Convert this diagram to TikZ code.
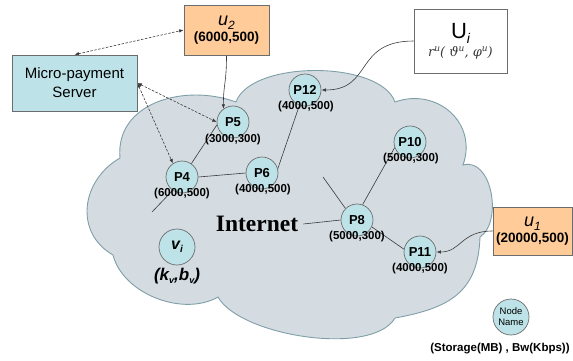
\documentclass[tikz,border=0pt]{standalone}
\usepackage{fontspec}
\setmainfont{Liberation Sans}
\newfontfamily\serifb{Liberation Serif}
\newfontfamily\greekit{DejaVu Serif}
\usetikzlibrary{arrows.meta,calc}
\definecolor{cloudfill}{HTML}{D4DCE2}
\definecolor{cloudline}{HTML}{7F9FA8}
\definecolor{nodefill}{HTML}{BDE3E8}
\definecolor{boxorange}{HTML}{FFCC99}
\definecolor{edgegray}{HTML}{3A3A3A}
\pgfdeclarelayer{cloudlayer}
\pgfdeclarelayer{edgelayer}
\pgfsetlayers{cloudlayer,edgelayer,main}
\newcommand{\supu}{\raisebox{4.5pt}{\fontsize{9}{9}\selectfont u}}
\begin{document}
\begin{tikzpicture}[x=1pt,y=-1pt,
  peer/.style={circle,draw=gray!85!black,line width=0.7pt,fill=nodefill,minimum size=32pt,inner sep=0pt,
    font=\fontsize{13}{13}\selectfont\bfseries},
  lbl/.style={inner sep=0pt,font=\fontsize{11.5}{12}\selectfont\bfseries},
  link/.style={draw=edgegray,line width=0.6pt},
  tip/.tip={Latex[length=4.5pt,width=3.5pt]},
  arr/.style={link,-tip},
  dashlink/.style={link,dash pattern=on 2.5pt off 1.5pt,tip-tip},
  ubox/.style={draw=gray!85!black,line width=0.7pt,fill=boxorange,inner sep=0pt,align=center},
]
\useasboundingbox (0,0) rectangle (573,360);

% cloud
\begin{pgfonlayer}{cloudlayer}
\path[fill=cloudfill,draw=cloudline,line width=0.9pt]
  (113,255) .. controls (74,232.5) and (81,180.5) .. (120,158)
  .. controls (115,103) and (184,83) .. (236,102)
  .. controls (251,60) and (380,60) .. (395,102)
  .. controls (437,87) and (478,123) .. (463,165)
  .. controls (492,157) and (503,222) .. (480,237)
  .. controls (478,292) and (450,308) .. (395,318)
  .. controls (372,357) and (240,336) .. (218,297)
  .. controls (183,317) and (123,294) .. (113,255) -- cycle;
\end{pgfonlayer}

% boxes
\node[ubox,minimum width=85pt,minimum height=50pt] (u2) at (226.5,30)
  {{\fontsize{18}{18}\selectfont\itshape u\raisebox{-4pt}{\fontsize{12}{12}\selectfont 2}}\\[1pt]
   {\fontsize{13.5}{14}\selectfont\bfseries (6000,500)}};
\node[ubox,minimum width=79pt,minimum height=48pt] (u1) at (532.5,231)
  {{\fontsize{18}{18}\selectfont\itshape u\raisebox{-4pt}{\fontsize{12}{12}\selectfont 1}}\\[1pt]
   {\fontsize{13.5}{14}\selectfont\bfseries (20000,500)}};
\node[draw=gray!85!black,line width=0.7pt,fill=white,inner sep=0pt,align=center,
  minimum width=93pt,minimum height=64pt] (Ui) at (460.5,41)
  {{\fontsize{22}{22}\selectfont U\raisebox{-5pt}{\fontsize{14}{14}\selectfont\itshape i}}\\[2pt]
   {\color{gray!45!black}\greekit\itshape\fontsize{13}{13}\selectfont r\supu( ϑ\supu, φ\supu)}};
\node[draw=gray!85!black,line width=0.7pt,fill=nodefill,inner sep=0pt,align=center,
  minimum width=125pt,minimum height=56pt,font=\fontsize{15}{19}\selectfont] (srv) at (74.5,83)
  {Micro-payment\\Server};

% Internet text
\node[inner sep=5pt,font=\serifb\bfseries\fontsize{23.5}{24}\selectfont] (net) at (257,224) {Internet};

% peers
\node[peer] (P5) at (233,122) {P5};
\node[peer] (P4) at (182,177) {P4};
\node[peer] (P6) at (262,173) {P6};
\node[peer] (P12) at (305,90) {P12};
\node[peer] (P10) at (410,142) {P10};
\node[peer] (P8) at (357,220) {P8};
\node[peer] (P11) at (420,252) {P11};
\node[peer,minimum size=36pt,font=\fontsize{16}{16}\selectfont\bfseries\itshape] (V) at (177,247)
  {v\raisebox{-3pt}{\fontsize{10}{10}\selectfont i}};
\node[peer,minimum size=36pt,align=center,font=\fontsize{9.5}{11}\selectfont] (legend) at (511,317) {Node\\Name};

% labels
\node[lbl] (P5l) at (233,140) {(3000,300)};
\node[lbl] (P4l) at (182,194) {(6000,500)};
\node[lbl] (P6l) at (263,190) {(4000,500)};
\node[lbl] (P12l) at (306,107) {(4000,500)};
\node[lbl] (P10l) at (411,159) {(5000,300)};
\node[lbl] (P8l) at (357,237) {(5000,300)};
\node[lbl] (P11l) at (420,269) {(4000,500)};
\node[inner sep=0pt,font=\fontsize{17}{17}\selectfont\bfseries\itshape] (Vl) at (177,276)
  {(k\raisebox{-3pt}{\fontsize{9}{9}\selectfont v},b\raisebox{-3pt}{\fontsize{9}{9}\selectfont v})};
\node[lbl] (legendl) at (500,349) {(Storage(MB) , Bw(Kbps))};

% free ends
\coordinate (f1) at (323,177);
\coordinate (f2) at (152,212);

% connectors
\begin{pgfonlayer}{edgelayer}
\draw[link] (P4.55) -- (P5.190);
\draw[link] (P4.235) -- (f2);
\draw[link] (P4.east) -- (P6.west);
\draw[link] (P6.15) -- (P12.250);
\draw[link] (net.east) -- (P8.west);
\draw[link] (f1) -- (P8.135);
\draw[link] (P8.70) -- (P10.200);
\draw[link] (P8.-25) -- (P11.170);
\draw[arr] (u2.south) .. controls +(0,28) and +(0,-25) .. (P5.126);
\draw[arr] (Ui.west) .. controls +(-60,0) and +(52,0) .. (P12.east);
\draw[arr] (u1.west) .. controls +(-32,0) and +(25,0) .. (P11.east);
\draw[dashlink] (srv.north) -- (u2.west);
\draw[dashlink] (srv.east) -- (P5.west);
\draw[dashlink] (srv.east) -- (P4.124);
\end{pgfonlayer}
\end{tikzpicture}
\end{document}
